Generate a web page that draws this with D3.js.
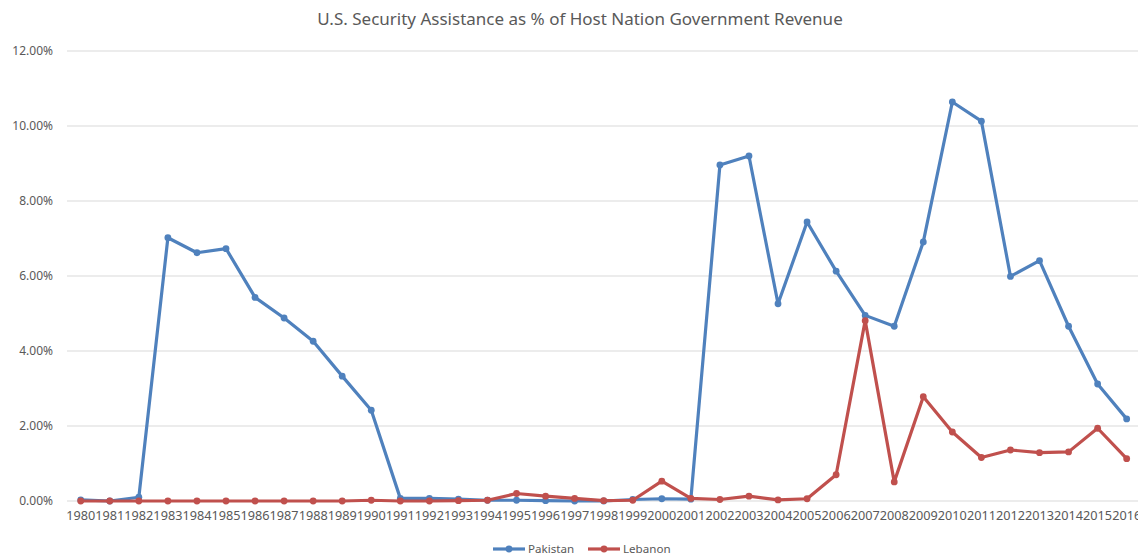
<!DOCTYPE html>
<html>
<head>
<meta charset="utf-8">
<script src="https://cdn.jsdelivr.net/npm/d3@7"></script>
<style>
  body { margin: 0; background: #fff; }
  svg { display: block; font-family: "Noto Sans", "Open Sans", sans-serif; }
</style>
</head>
<body>
<svg id="chart" width="1138" height="556"></svg>
<script>
// data (percent of host nation revenue)
const years = ["1980","1981","1982","1983","1984","1985","1986","1987","1988","1989",
  "1990","1991","1992","1993","1994","1995","1996","1997","1998","1999",
  "2000","2001","2002","2003","2004","2005","2006","2007","2008","2009",
  "2010","2011","2012","2013","2014","2015","2016"];
const pakistan = [0.03,0.0,0.1,7.02,6.62,6.73,5.43,4.88,4.26,3.33,
  2.42,0.07,0.07,0.05,0.02,0.02,0.01,0.0,0.0,0.04,
  0.06,0.05,8.96,9.2,5.26,7.44,6.13,4.95,4.66,6.91,
  10.64,10.13,5.99,6.41,4.66,3.12,2.19];
const lebanon = [0.0,0.0,0.0,0.0,0.0,0.0,0.0,0.0,0.0,0.0,
  0.02,0.0,0.0,0.01,0.02,0.2,0.13,0.07,0.01,0.02,
  0.53,0.07,0.04,0.13,0.03,0.06,0.7,4.81,0.51,2.78,
  1.84,1.16,1.36,1.29,1.31,1.94,1.13];
const yTicks = [0,2,4,6,8,10,12];
const seriesNames = ["Pakistan","Lebanon"];
const seriesColors = ["#4F81BD","#C0504D"];

const buildChart = (svg_name) => {
    let chart = d3.select(svg_name);
    let textColor = "#595959";

    let x = d3.scaleBand()
                .domain(years)
                .range([66.2, 1141.2]);
    let y = d3.scaleLinear()
                .domain([0,12])
                .range([501, 51]);
    let cx = (d) => x(d) + x.bandwidth()/2;

    // gridlines
    chart.append("g").selectAll("line")
        .data(yTicks)
        .enter().append("line")
        .attr("x1", 67).attr("x2", 1138)
        .attr("y1", (d) => y(d)).attr("y2", (d) => y(d))
        .attr("stroke", "#d9d9d9").attr("stroke-width", 1);

    // y axis labels
    let y_axis = d3.axisLeft(y).tickValues(yTicks)
                    .tickFormat((d) => d.toFixed(2) + "%")
                    .tickSize(0).tickPadding(0);
    let yg = chart.append("g").attr("transform","translate(53,0)").call(y_axis);
    yg.select(".domain").remove();
    yg.selectAll("text").attr("fill", textColor).style("font-size","12px")
        .style("font-family", "'Noto Sans', sans-serif");

    // x axis labels
    let x_axis = d3.axisBottom(x).tickSize(0).tickPadding(0);
    let xg = chart.append("g").attr("transform","translate(0,511)").call(x_axis);
    xg.select(".domain").remove();
    xg.selectAll("text").attr("fill", textColor).style("font-size","12.7px")
        .style("font-family", "'Noto Sans', sans-serif");

    // series
    let allSeries = [pakistan, lebanon];
    let line = d3.line().x((d,i) => cx(years[i])).y((d) => y(d));
    allSeries.forEach((vals, k) => {
        let g = chart.append("g");
        g.append("path")
            .datum(vals)
            .attr("d", line)
            .attr("fill","none")
            .attr("stroke", seriesColors[k])
            .attr("stroke-width", 3.2)
            .attr("stroke-linejoin","round");
        g.selectAll("circle")
            .data(vals)
            .enter().append("circle")
            .attr("cx", (d,i) => cx(years[i]))
            .attr("cy", (d) => y(d))
            .attr("r", 3.4)
            .attr("fill", seriesColors[k]);
    });

    // title
    chart.append("text")
        .attr("x", 580)
        .attr("y", 25)
        .style("text-anchor","middle")
        .style("font-size","17px")
        .attr("fill", textColor)
        .text("U.S. Security Assistance as % of Host Nation Government Revenue");

    // legend
    let legendX = [493, 588];
    seriesNames.forEach((name, k) => {
        let lg = chart.append("g").attr("transform","translate(" + legendX[k] + ",549)");
        lg.append("line").attr("x1",0).attr("x2",32).attr("y1",0).attr("y2",0)
            .attr("stroke", seriesColors[k]).attr("stroke-width",3.2);
        lg.append("circle").attr("cx",16).attr("cy",0).attr("r",3.4).attr("fill",seriesColors[k]);
        lg.append("text").attr("x",35).attr("y",3.8)
            .style("font-size","11.6px").attr("fill", textColor).text(name);
    });
}

buildChart("#chart");
</script>
</body>
</html>
